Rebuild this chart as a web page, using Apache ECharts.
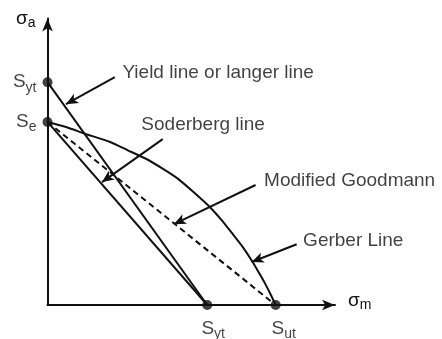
<!DOCTYPE html>
<html>
<head>
<meta charset="utf-8">
<script src="https://cdn.jsdelivr.net/npm/echarts@6/dist/echarts.min.js"></script>
<style>
  html, body { margin: 0; padding: 0; background: #fff; }
  #chart { width: 442px; height: 339px; }
</style>
</head>
<body>
<div id="chart"></div>
<script>
// Fatigue failure criteria plotted in the mean stress / alternating stress plane.

// Material strengths (same units on both axes)
const Se = 57.5;   // endurance limit, on the σa axis
const Syt = 70;    // yield strength
const Sut = 100;   // ultimate tensile strength, on the σm axis

// Axis extents
const axisMaxM = 126;
const axisMaxA = 90;

// Gerber curve, sampled from Se down to Sut
const gerberM = [0, 8.1, 16.4, 27.4, 35.2, 42.7, 50.1, 57.1, 64.1, 71.1, 76.4, 80.7, 85.6, 89.9, 93.0, 95.6, 97.8, 100];
const gerberA = [57.5, 55.9, 53.8, 51.2, 48.6, 46.1, 43.0, 39.7, 35.4, 30.8, 26.6, 22.7, 18.2, 13.5, 9.7, 6.4, 3.3, 0];

// Callout texts
const noteNames = ['Yield line or langer line', 'Soderberg line', 'Modified Goodmann', 'Gerber Line'];

// Callout layout (in σm / σa units): text anchor, leader start, arrow tip
const noteTextAt = [[32.6, 72.8], [40.9, 56.5], [94.7, 38.9], [111.8, 20.1]];
const noteFrom = [[29.5, 71.6], [50.5, 52.1], [91.2, 37.7], [109.2, 19.1]];
const noteTo = [[8.1, 63.1], [23.9, 38.6], [55.4, 25.4], [89.5, 13.5]];

const INK = '#111111';
const FONT = '"Liberation Sans", Arial, sans-serif';

const subRich = {
  s: { fontSize: 19, fontFamily: FONT, color: INK },
  b: { fontSize: 14, fontFamily: FONT, color: INK, padding: [11, 0, 0, 0] }
};
const greekRich = {
  s: { fontSize: 19, fontFamily: FONT, color: INK },
  b: { fontSize: 14, fontFamily: FONT, color: INK, padding: [9, 0, 0, 0] }
};

function strengthPoint(x, y, text, position, offset) {
  return {
    value: [x, y],
    label: { show: true, formatter: text, position: position, distance: 6, offset: offset, rich: subRich }
  };
}

const chart = echarts.init(document.getElementById('chart'), null, { renderer: 'canvas' });

const lineBase = { type: 'line', symbol: 'none', silent: true, z: 3 };

chart.setOption({
  animation: false,
  backgroundColor: '#ffffff',
  grid: { left: 47.5, right: 107, top: 18.5, bottom: 34, containLabel: false },
  xAxis: {
    type: 'value', min: 0, max: axisMaxM,
    splitLine: { show: false }, axisTick: { show: false }, axisLabel: { show: false },
    axisLine: { show: true, symbol: ['none', 'arrow'], symbolSize: [8, 13], lineStyle: { color: INK, width: 2 } },
    name: '{s|σ}{b|m}', nameLocation: 'end', nameGap: 13,
    nameTextStyle: { align: 'left', verticalAlign: 'middle', padding: [0, 0, 8, 0], rich: greekRich }
  },
  yAxis: {
    type: 'value', min: 0, max: axisMaxA,
    splitLine: { show: false }, axisTick: { show: false }, axisLabel: { show: false },
    axisLine: { show: true, symbol: ['none', 'arrow'], symbolSize: [8, 13], lineStyle: { color: INK, width: 2 } },
    name: '{s|σ}{b|a}', nameLocation: 'end', nameGap: 0,
    nameTextStyle: { align: 'right', verticalAlign: 'middle', padding: [0, 12, 0, 0], rich: greekRich }
  },
  series: [
    Object.assign({}, lineBase, {
      name: 'Yield line',
      data: [[0, Syt], [Syt, 0]],
      lineStyle: { color: INK, width: 2 }
    }),
    Object.assign({}, lineBase, {
      name: 'Soderberg line',
      data: [[0, Se], [Syt, 0]],
      lineStyle: { color: INK, width: 2 }
    }),
    Object.assign({}, lineBase, {
      name: 'Modified Goodman',
      data: [[0, Se], [Sut, 0]],
      lineStyle: { color: INK, width: 2, type: [6, 4] }
    }),
    Object.assign({}, lineBase, {
      name: 'Gerber line',
      data: gerberM.map((m, i) => [m, gerberA[i]]),
      smooth: 0.2,
      lineStyle: { color: INK, width: 2 }
    }),
    {
      name: 'Strengths',
      type: 'scatter',
      clip: false,
      silent: true,
      z: 5,
      symbol: 'circle',
      symbolSize: 10,
      itemStyle: { color: '#111' },
      data: [
        strengthPoint(0, Syt, '{s|S}{b|yt}', 'left', [0, 0]),
        strengthPoint(0, Se, '{s|S}{b|e}', 'left', [0, 0]),
        strengthPoint(Syt, 0, '{s|S}{b|yt}', 'bottom', [6, 0]),
        strengthPoint(Sut, 0, '{s|S}{b|ut}', 'bottom', [8, 0])
      ]
    },
    {
      name: 'Callouts',
      type: 'scatter',
      clip: false,
      silent: true,
      z: 6,
      symbol: 'circle',
      symbolSize: 1,
      itemStyle: { color: 'rgba(0,0,0,0)' },
      label: {
        show: true, position: 'right', distance: 0,
        formatter: p => p.name,
        fontSize: 19, fontFamily: FONT, color: INK
      },
      data: noteNames.map((n, i) => ({ name: n, value: noteTextAt[i] })),
      markLine: {
        silent: true,
        animation: false,
        symbol: ['none', 'arrow'],
        symbolSize: [8, 12],
        label: { show: false },
        emphasis: { disabled: true },
        lineStyle: { color: INK, width: 2, type: 'solid' },
        data: noteFrom.map((f, i) => [{ coord: f }, { coord: noteTo[i] }])
      }
    }
  ]
});
</script>
</body>
</html>
